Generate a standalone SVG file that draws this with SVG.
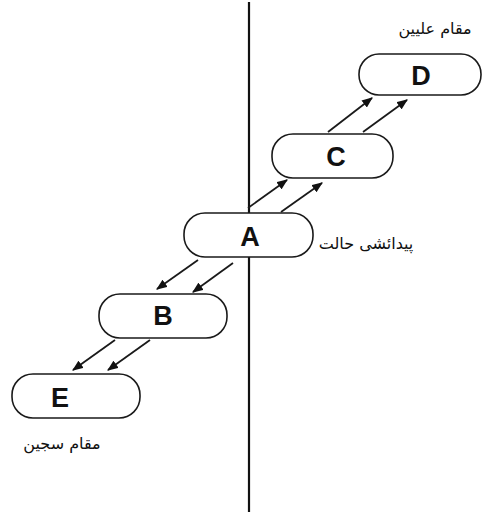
<svg xmlns="http://www.w3.org/2000/svg" width="483" height="520" viewBox="0 0 483 520">
  <style>
    .node rect { fill: #ffffff; stroke: #1a1a1a; stroke-width: 1.6; }
    .node text { font-family: "Liberation Sans", Arial, sans-serif; font-weight: bold; font-size: 27px; fill: #111111; text-anchor: middle; }
    .conn line { stroke: #1a1a1a; stroke-width: 1.8; marker-end: url(#head); }
    .axis { stroke: #111111; stroke-width: 2.2; }
    .label { font-family: "DejaVu Sans", "Noto Sans", sans-serif; font-size: 16px; fill: #111111; text-anchor: middle; }
  </style>
  <defs>
    <marker id="head" viewBox="0 0 10 8" refX="9" refY="4" markerWidth="11" markerHeight="9" markerUnits="userSpaceOnUse" orient="auto">
      <path d="M0,0 L10,4 L0,8 Z" fill="#111111"/>
    </marker>
  </defs>

  <rect width="483" height="520" fill="#ffffff"/>

  <!-- dividing axis -->
  <line class="axis" x1="249" y1="2" x2="249" y2="512"/>

  <!-- connectors -->
  <g id="connectors" class="conn">
    <line x1="248" y1="208" x2="287" y2="180"/>
    <line x1="281" y1="212" x2="322" y2="183"/>
    <line x1="328" y1="132" x2="372" y2="98"/>
    <line x1="363" y1="132" x2="407" y2="100"/>
    <line x1="198" y1="260" x2="157" y2="289"/>
    <line x1="233" y1="263" x2="193" y2="292"/>
    <line x1="115" y1="340" x2="73" y2="370"/>
    <line x1="150" y1="340" x2="108" y2="370"/>
  </g>

  <g id="node-D" class="node">
    <rect x="359" y="54" width="122" height="41" rx="20"/>
    <text x="421" y="85">D</text>
  </g>
  <g id="node-C" class="node">
    <rect x="272" y="134" width="121" height="44" rx="21"/>
    <text x="336" y="166">C</text>
  </g>
  <g id="node-A" class="node">
    <rect x="184" y="213" width="129" height="44" rx="21"/>
    <text x="250" y="246">A</text>
  </g>
  <g id="node-B" class="node">
    <rect x="99" y="294" width="128" height="44" rx="21"/>
    <text x="163" y="325">B</text>
  </g>
  <g id="node-E" class="node">
    <rect x="12" y="374" width="128" height="44" rx="21"/>
    <text x="60" y="407">E</text>
  </g>

  <!-- side labels -->
  <text class="label" x="435" y="34" direction="rtl">مقام علیین</text>
  <text class="label" x="366" y="249" direction="rtl">پیدائشی حالت</text>
  <text class="label" x="62" y="449" direction="rtl">مقام سجین</text>
</svg>
